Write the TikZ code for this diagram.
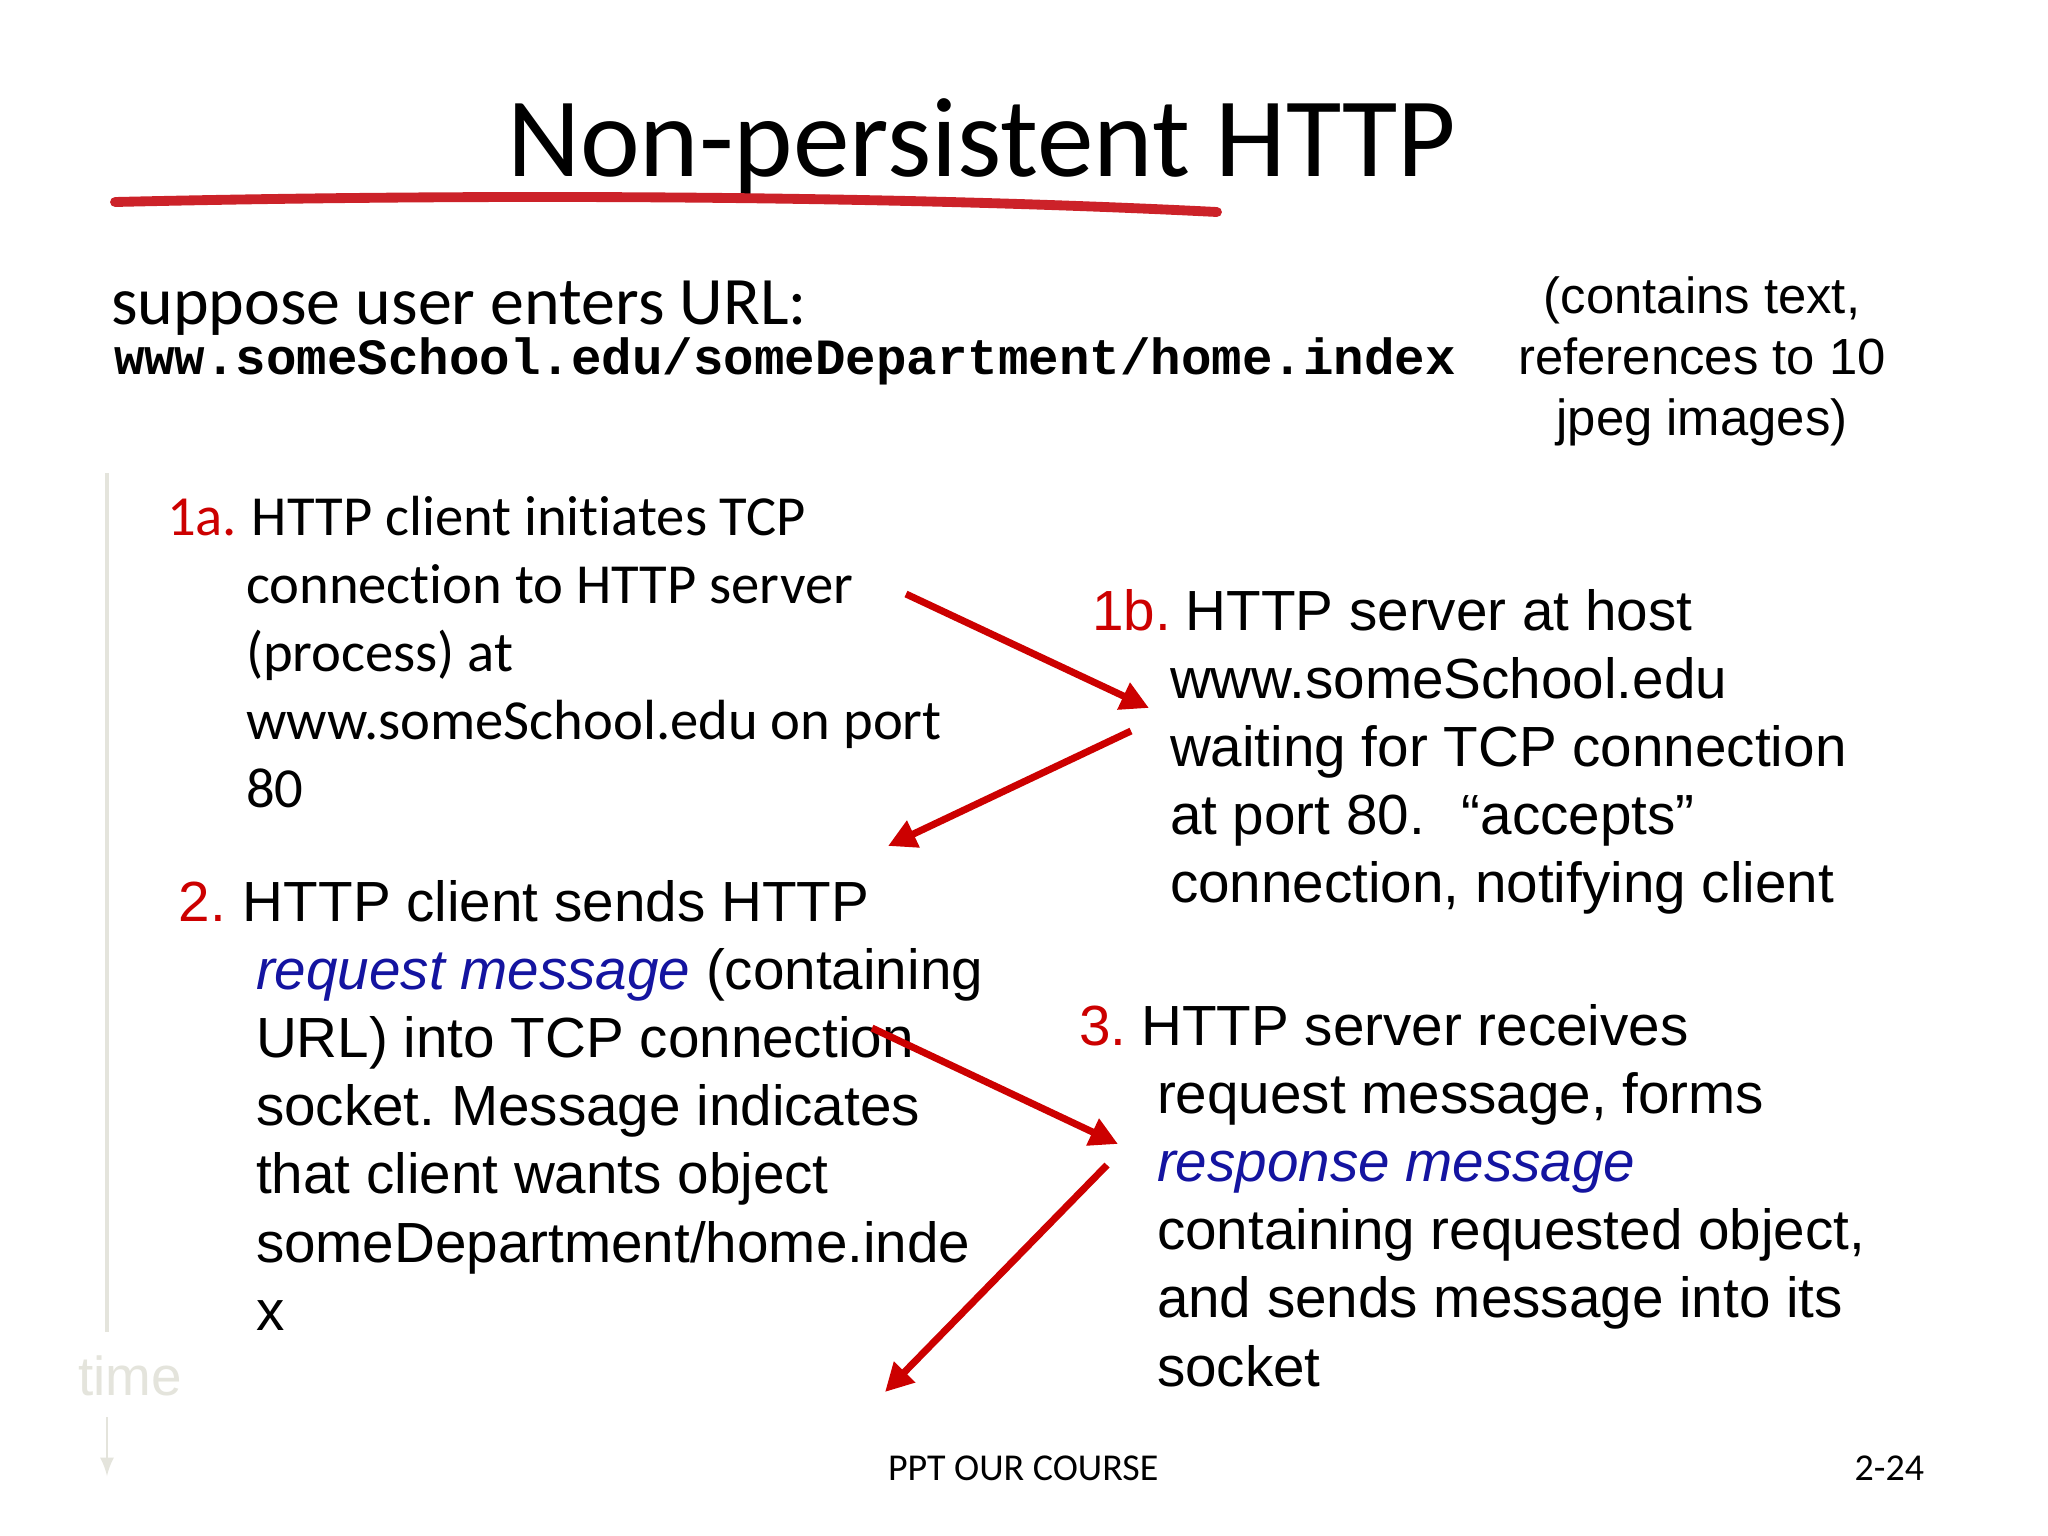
\documentclass[tikz,border=0pt]{standalone}
\usepackage{fontspec}
\usepackage{xcolor}
\usetikzlibrary{arrows.meta}
\newfontfamily\calibri[Ligatures=NoCommon]{Carlito}
\newfontfamily\arial{Liberation Sans}
\newfontfamily\courier{Liberation Mono}
\definecolor{numred}{RGB}{204,0,0}
\definecolor{arrowred}{RGB}{204,0,0}
\definecolor{penred}{RGB}{204,34,41}
\definecolor{msgblue}{RGB}{20,20,160}
\definecolor{timegray}{RGB}{228,228,220}
\newcommand{\numred}[2][0.26em]{\llap{\textcolor{numred}{#2}\hspace{#1}}}
\newcommand{\msgblue}[1]{\textcolor{msgblue}{\textit{#1}}}
\tikzset{>=latex}
\frenchspacing

\begin{document}
\begin{tikzpicture}[x=0.01cm,y=-0.01cm,
  every node/.style={inner sep=0pt,outer sep=0pt},
  calibritext/.style={anchor=base west,font=\calibri\fontsize{16.1}{19.4}\selectfont},
  arialtext/.style={anchor=base west,font=\arial\fontsize{16.1}{19.4}\selectfont},
  redarrow/.style={arrowred,line width=2pt,-{Triangle[length=8pt,width=8pt]}}]

% Page
\fill[white] (0,0) rectangle (2048,1536);
\useasboundingbox (0,0) rectangle (2048,1536);

% Title
\node[anchor=base west,font=\calibri\fontsize{32.2}{38}\selectfont] (title) at (507,176) {Non-persistent HTTP};
\draw[penred,line width=2.8pt,line cap=round] (115,202) .. controls (500,193) and (900,196) .. (1217,212);

% URL
\node[anchor=base west,font=\calibri\fontsize{19.3}{23}\selectfont] (suppose) at (111,324) {suppose user enters URL:};
\node[anchor=base west,font=\courier\bfseries\fontsize{14.45}{17}\selectfont] (url) at (114,374) {www.someSchool.edu/someDepartment/home.index};
\node[anchor=base,font=\arial\fontsize{14.45}{17.35}\selectfont] (contents) at (1702,313) {\begin{tabular}[t]{@{}c@{}}
  (contains text,\\
  references to 10\\
  jpeg images)
\end{tabular}};

% Steps
\node[calibritext] (step1a) at (246,535) {\begin{tabular}[t]{@{}l@{}}
  \hspace*{1.7pt}\numred{1a.}HTTP client initiates TCP\\
  connection to HTTP server\\
  (process) at\\
  www.someSchool.edu on port\\
  80
\end{tabular}};

\node[arialtext] (step1b) at (1170,630) {\begin{tabular}[t]{@{}l@{}}
  \hspace*{4.5pt}\numred{1b.}HTTP server at host\\
  www.someSchool.edu\\
  waiting for TCP connection\\
  at port 80.\hspace{0.65em}“accepts”\\
  connection, notifying client
\end{tabular}};

\node[arialtext] (step2) at (256,921) {\begin{tabular}[t]{@{}l@{}}
  \hspace*{-3.7pt}\numred[0.3em]{2.}HTTP client sends HTTP\\
  \msgblue{request message} (containing\\
  URL) into TCP connection\\
  socket. Message indicates\\
  that client wants object\\
  someDepartment/home.inde\\
  x
\end{tabular}};

\node[arialtext] (step3) at (1157,1045) {\begin{tabular}[t]{@{}l@{}}
  \hspace*{-4.5pt}\numred{3.}HTTP server receives\\
  request message, forms\\
  \msgblue{response message}\\
  containing requested object,\\
  and sends message into its\\
  socket
\end{tabular}};

% Arrows
\coordinate (a1s) at (906,594);
\coordinate (a1e) at (1149,708);
\coordinate (a2s) at (1131,731);
\coordinate (a2e) at (888,846);
\coordinate (a3s) at (872,1028);
\coordinate (a3e) at (1118,1144);
\coordinate (a4s) at (1107,1165);
\coordinate (a4e) at (885,1392);
\draw[redarrow] (a1s) -- (a1e);
\draw[redarrow] (a2s) -- (a2e);
\draw[redarrow] (a3s) -- (a3e);
\draw[redarrow] (a4s) -- (a4e);

% Time axis
\coordinate (ttop) at (107,473);
\coordinate (tbot) at (107,1332);
\draw[timegray,line width=1pt] (ttop) -- (tbot);
\node[anchor=base,font=\arial\fontsize{15.6}{18}\selectfont,text=timegray] (time) at (130,1395) {time};
\coordinate (tas) at (107,1417);
\coordinate (tae) at (107,1476);
\draw[timegray,line width=0.8pt,->] (tas) -- (tae);

% Footer
\node[anchor=base west,font=\calibri\fontsize{10.8}{13}\selectfont] (course) at (888,1480) {PPT OUR COURSE};
\node[anchor=base east,font=\calibri\fontsize{10.8}{13}\selectfont] (page) at (1924,1480) {2-24};

\end{tikzpicture}
\end{document}
